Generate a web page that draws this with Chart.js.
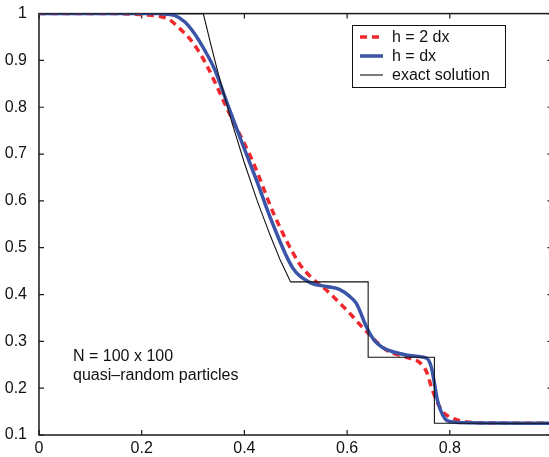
<!DOCTYPE html>
<html>
<head>
<meta charset="utf-8">
<script src="https://cdn.jsdelivr.net/npm/chart.js@4/dist/chart.umd.min.js"></script>
<style>
html,body{margin:0;padding:0;background:#fff;overflow:hidden;width:549px;height:457px;}
canvas{display:block;}
</style>
</head>
<body>
<canvas id="c" width="556" height="457" style="width:556px;height:457px"></canvas>
<script>
// ---- data ----
const xTickValues = [0, 0.2, 0.4, 0.6, 0.8];
const yTickValues = [0.1, 0.2, 0.3, 0.4, 0.5, 0.6, 0.7, 0.8, 0.9, 1];

const seriesLabels = ['h = 2 dx', 'h = dx', 'exact solution'];

// h = 2 dx (red dashed)
const x2dx = [0, 0.157, 0.196, 0.235, 0.254, 0.274, 0.293, 0.309, 0.326, 0.342, 0.357, 0.375, 0.416, 0.459, 0.507, 0.527, 0.560, 0.605, 0.630, 0.677, 0.716, 0.741, 0.755, 0.766, 0.784, 0.805, 0.833, 0.858, 1.0];
const y2dx = [1, 1, 0.998, 0.994, 0.987, 0.968, 0.947, 0.923, 0.891, 0.855, 0.819, 0.777, 0.685, 0.568, 0.466, 0.440, 0.409, 0.360, 0.330, 0.281, 0.266, 0.255, 0.234, 0.196, 0.153, 0.136, 0.128, 0.126, 0.125];

// h = dx (blue solid)
const xDx = [0, 0.235, 0.244, 0.264, 0.283, 0.303, 0.322, 0.342, 0.365, 0.394, 0.424, 0.453, 0.494, 0.527, 0.560, 0.585, 0.605, 0.618, 0.638, 0.653, 0.669, 0.702, 0.735, 0.755, 0.764, 0.770, 0.776, 0.790, 0.805, 0.838, 1.0];
const yDx = [1, 1, 0.999, 0.996, 0.983, 0.957, 0.923, 0.881, 0.813, 0.728, 0.643, 0.557, 0.457, 0.426, 0.417, 0.411, 0.396, 0.381, 0.330, 0.302, 0.287, 0.274, 0.268, 0.264, 0.245, 0.211, 0.174, 0.136, 0.128, 0.126, 0.125];

// exact solution (black thin)
const xExact = [0, 0.320, 0.335, 0.350, 0.375, 0.400, 0.425, 0.450, 0.470, 0.490, 0.641, 0.641, 0.770, 0.770, 1.0];
const yExact = [1, 1, 0.932, 0.868, 0.770, 0.681, 0.600, 0.527, 0.473, 0.427, 0.427, 0.266, 0.266, 0.125, 0.125];

const noteLines = ['N = 100 x 100', 'quasi\u2013random particles'];

// ---- build ----
const pts = (xs, ys) => xs.map((x, i) => ({x: x, y: ys[i]}));
const FONT = '"Liberation Sans", Arial, Helvetica, sans-serif';
const RED = '#f0282d', BLUE = '#3a55a8', BLACK = '#111111';

const framePlugin = {
  id: 'frame',
  beforeDatasetsDraw(chart) {
    const {ctx, chartArea: a, scales} = chart;
    ctx.save();
    ctx.strokeStyle = '#1a1a1a';
    ctx.lineWidth = 1.5;
    ctx.strokeRect(a.left, a.top, a.right - a.left, a.bottom - a.top);
    ctx.lineWidth = 1.2;
    const L = 5;
    ctx.beginPath();
    scales.x.ticks.forEach(t => {
      const px = scales.x.getPixelForValue(t.value);
      ctx.moveTo(px, a.bottom); ctx.lineTo(px, a.bottom - L);
      ctx.moveTo(px, a.top); ctx.lineTo(px, a.top + L);
    });
    scales.y.ticks.forEach(t => {
      const py = scales.y.getPixelForValue(t.value);
      ctx.moveTo(a.left, py); ctx.lineTo(a.left + L, py);
      ctx.moveTo(a.right, py); ctx.lineTo(a.right - L, py);
    });
    ctx.stroke();
    ctx.restore();
  },
  afterDatasetsDraw(chart) {
    const {ctx} = chart;
    ctx.save();
    // legend box
    const bx = 352, by = 25, bw = 153, bh = 62;
    ctx.fillStyle = '#fff';
    ctx.fillRect(bx, by, bw, bh);
    ctx.strokeStyle = '#111';
    ctx.lineWidth = 1;
    ctx.strokeRect(bx + 0.5, by + 0.5, bw, bh);
    const rowsY = [37, 56, 75];
    ctx.font = '16px ' + FONT;
    ctx.textBaseline = 'middle';
    ctx.textAlign = 'left';
    chart.data.datasets.forEach((ds, i) => {
      ctx.beginPath();
      ctx.strokeStyle = ds.borderColor;
      ctx.lineWidth = ds.borderWidth;
      ctx.setLineDash(ds.borderDash || []);
      ctx.moveTo(360, rowsY[i]); ctx.lineTo(383, rowsY[i]);
      ctx.stroke();
      ctx.setLineDash([]);
      ctx.fillStyle = '#111';
      ctx.fillText(ds.label, 392, rowsY[i] + 1);
    });
    // annotation
    ctx.fillText(noteLines[0], 73, 357);
    ctx.fillText(noteLines[1], 73, 376);
    ctx.restore();
  }
};

new Chart(document.getElementById('c'), {
  type: 'line',
  data: {
    datasets: [
      {label: seriesLabels[0], data: pts(x2dx, y2dx), borderColor: RED, borderWidth: 3.5, borderDash: [7, 5], pointRadius: 0, fill: false, cubicInterpolationMode: 'monotone', order: 2},
      {label: seriesLabels[1], data: pts(xDx, yDx), borderColor: BLUE, borderWidth: 3.5, pointRadius: 0, fill: false, cubicInterpolationMode: 'monotone', order: 1},
      {label: seriesLabels[2], data: pts(xExact, yExact), borderColor: BLACK, borderWidth: 1.1, pointRadius: 0, fill: false, tension: 0, order: 0}
    ]
  },
  options: {
    responsive: false,
    devicePixelRatio: 1,
    animation: false,
    events: [],
    layout: {padding: {top: 12, right: 3.5, left: 0, bottom: 0}},
    plugins: {legend: {display: false}, tooltip: {enabled: false}},
    scales: {
      x: {
        type: 'linear', min: 0, max: 1,
        afterBuildTicks: s => { s.ticks = xTickValues.map(v => ({value: v})); },
        afterFit: s => { s.height = 22; },
        grid: {display: false}, border: {display: false},
        ticks: {color: '#111', font: {family: FONT, size: 16}, padding: -4, maxRotation: 0,
                callback: v => String(v)}
      },
      y: {
        type: 'linear', min: 0.1, max: 1,
        afterBuildTicks: s => { s.ticks = yTickValues.map(v => ({value: v})); },
        afterFit: s => { s.width = 39; },
        grid: {display: false}, border: {display: false},
        ticks: {color: '#111', font: {family: FONT, size: 16}, padding: 4,
                callback: v => String(Math.round(v * 10) / 10)}
      }
    }
  },
  plugins: [framePlugin]
});
</script>
</body>
</html>
